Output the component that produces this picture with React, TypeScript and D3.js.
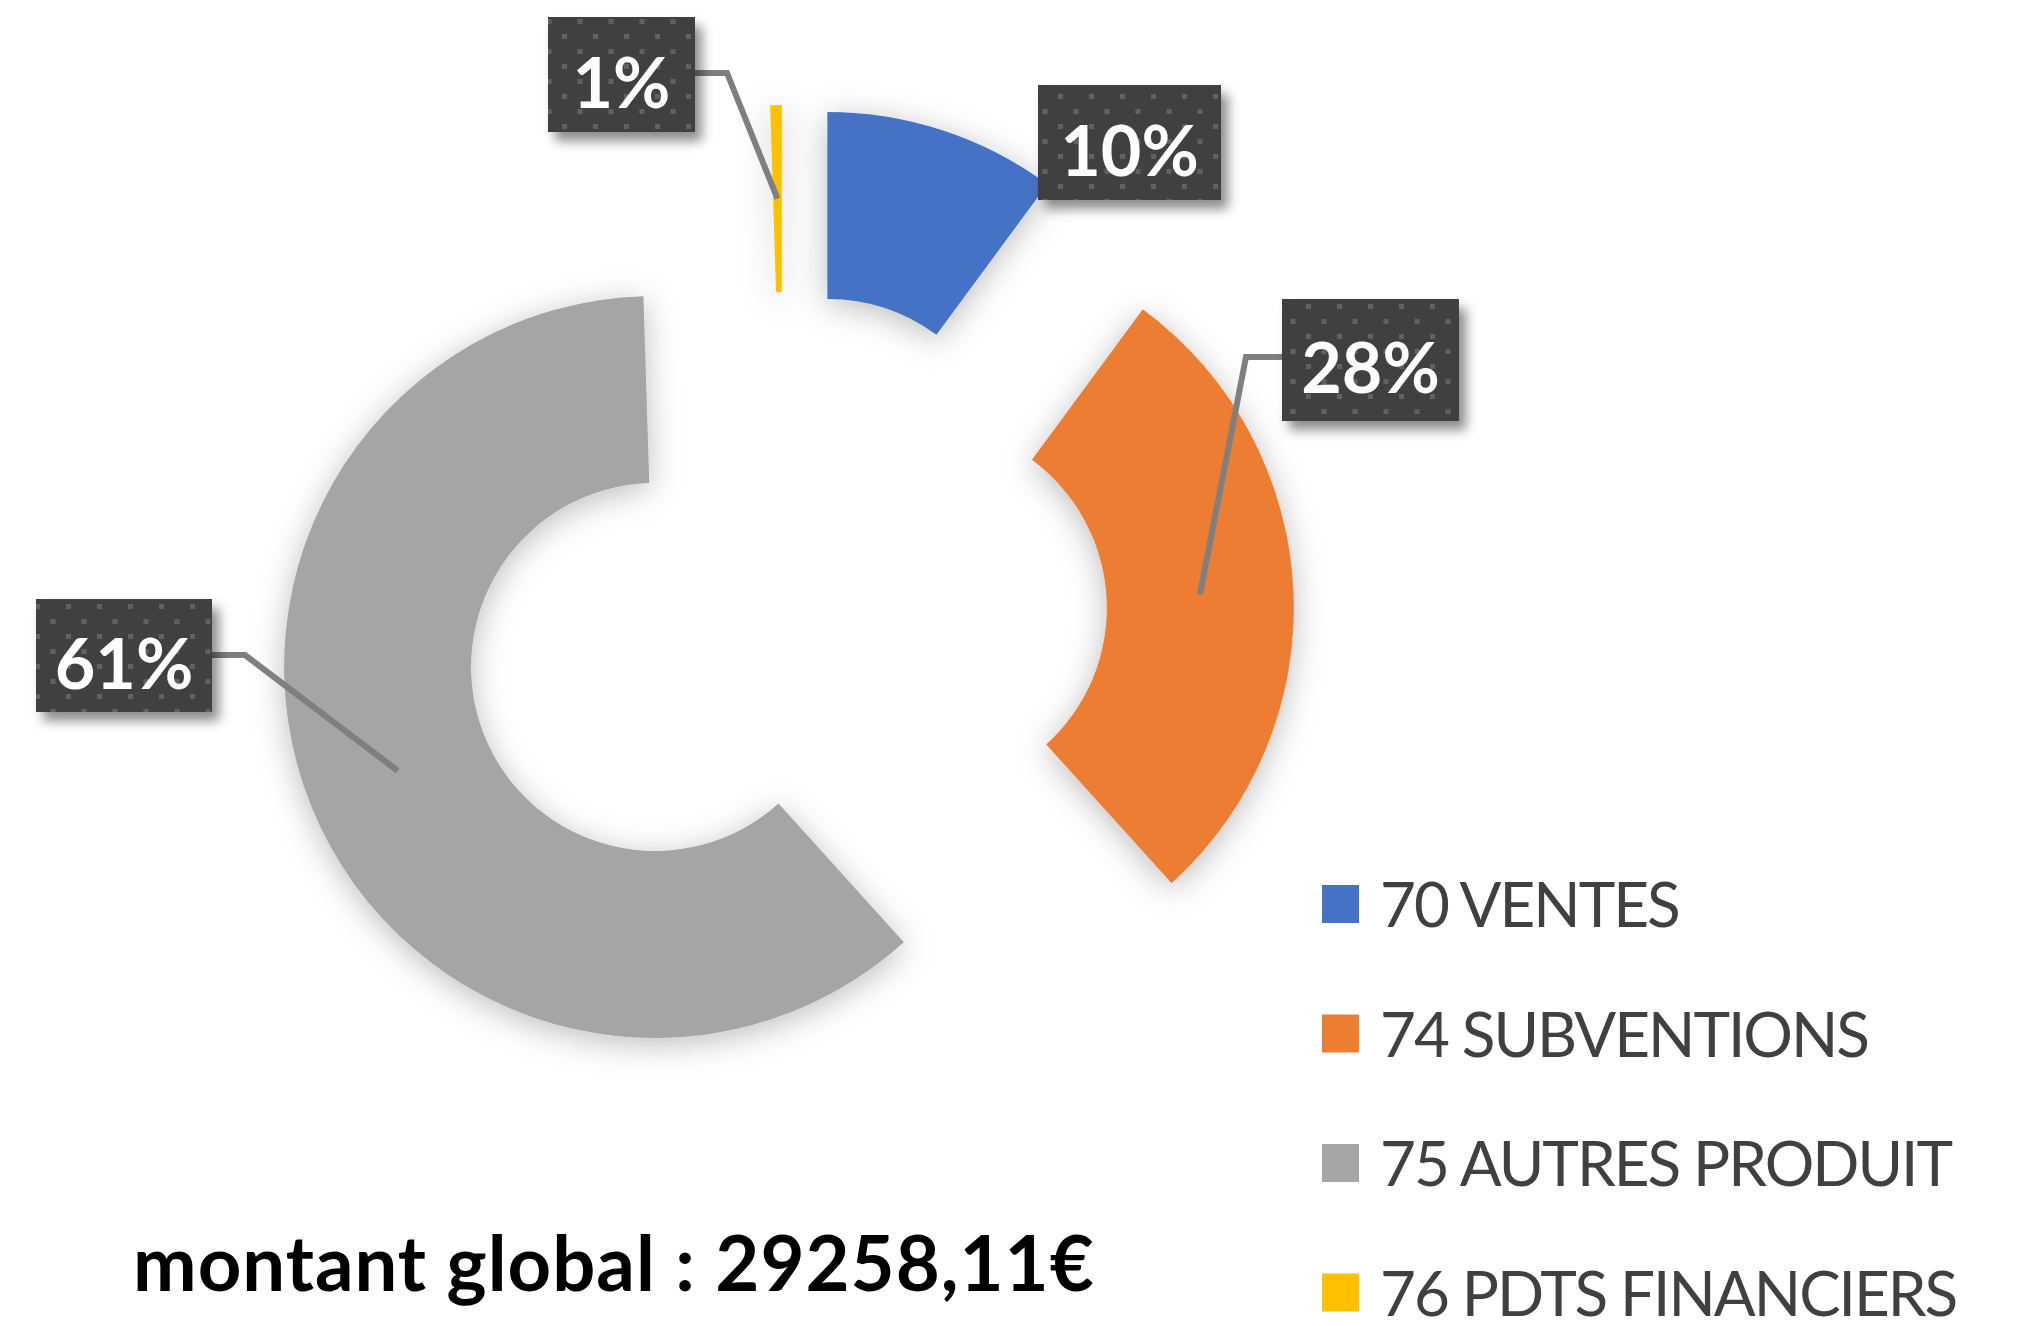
import * as d3 from 'd3';
import React from 'react';

const categories = ['70 VENTES', '74 SUBVENTIONS', '75 AUTRES PRODUIT', '76 PDTS FINANCIERS'];
const shares = [10.1, 28.2, 61.2, 0.5];
const colors = ['#4472C4', '#ED7D31', '#A5A5A5', '#FFC000'];
const totalLabel = 'montant global : 29258,11€';

const width = 2019;
const height = 1326;
const center = { x: 784, y: 615 };
const outerR = 371;
const innerR = 184;
const explode = 139;

// label boxes are placed by hand, like in the original workbook
const boxes = [
  { x: 1038, y: 85, w: 183, h: 115, elbow: null as null | number[] },
  { x: 1282, y: 299, w: 177, h: 122, elbow: [1282, 357, 1246, 357] },
  { x: 36, y: 599, w: 176, h: 113, elbow: [212, 655, 245, 655] },
  { x: 548, y: 17, w: 147, h: 115, elbow: [695, 73, 727, 73] },
];

const App: React.FC = () => {
  const pie = d3.pie<number>().sort(null).value((d) => d);
  const arcs = pie(shares);
  const arc = d3.arc<d3.PieArcDatum<number>>().innerRadius(innerR).outerRadius(outerR);
  const total = d3.sum(shares);
  const fmt = (v: number) => `${Math.round((v / total) * 100)}%`;

  const offset = (a: d3.PieArcDatum<number>) => {
    const mid = (a.startAngle + a.endAngle) / 2;
    return [center.x + explode * Math.sin(mid), center.y - explode * Math.cos(mid)];
  };

  return (
    <svg
      width={width}
      height={height}
      viewBox={`0 0 ${width} ${height}`}
      style={{ position: 'absolute', left: 0, top: 0, background: '#fff' }}
    >
      <defs>
        <filter id="sliceShadow" x="-30%" y="-30%" width="160%" height="160%">
          <feDropShadow dx="0" dy="6" stdDeviation="16" floodColor="#000" floodOpacity="0.26" />
        </filter>
        <filter id="boxShadow" x="-20%" y="-20%" width="150%" height="160%">
          <feDropShadow dx="7" dy="9" stdDeviation="6" floodColor="#000" floodOpacity="0.45" />
        </filter>
        <pattern id="dots" width="31" height="30" patternUnits="userSpaceOnUse">
          <rect width="31" height="30" fill="#404040" />
          <rect x="4" y="4" width="5" height="5" fill="#616161" />
          <rect x="19.5" y="19" width="5" height="5" fill="#616161" />
        </pattern>
      </defs>

      <g filter="url(#sliceShadow)">
        {arcs.map((a, i) => {
          const [ox, oy] = offset(a);
          return (
            <path key={i} d={arc(a) || ''} transform={`translate(${ox},${oy})`} fill={colors[i]} />
          );
        })}
      </g>

      {arcs.map((a, i) => {
        const b = boxes[i];
        if (!b.elbow) return null;
        const [ox, oy] = offset(a);
        const [cx, cy] = arc.centroid(a);
        const pts = `${b.elbow[0]},${b.elbow[1]} ${b.elbow[2]},${b.elbow[3]} ${ox + cx},${oy + cy}`;
        return <polyline key={i} points={pts} fill="none" stroke="#7f7f7f" strokeWidth={6} />;
      })}

      {arcs.map((a, i) => {
        const b = boxes[i];
        return (
          <g key={i}>
            <rect x={b.x} y={b.y} width={b.w} height={b.h} fill="#404040" filter="url(#boxShadow)" />
            <rect x={b.x} y={b.y} width={b.w} height={b.h} fill="url(#dots)" />
            <text
              x={b.x + b.w / 2}
              y={b.y + b.h / 2 + 33}
              textAnchor="middle"
              fontFamily="Lato, 'Open Sans', sans-serif"
              fontWeight={700}
              fontSize={70}
              fill="#fff"
            >
              {fmt(a.data)}
            </text>
          </g>
        );
      })}

      <rect x={1284} y={834} width={width - 1284} height={height - 834} fill="#fff" />
      {categories.map((c, i) => {
        const rowY = 904 + i * 129.5;
        return (
          <g key={c}>
            <rect x={1322} y={rowY - 19} width={37} height={38} fill={colors[i]} />
            <text
              x={1380}
              y={rowY + 23}
              fontFamily="Lato, 'Open Sans', sans-serif"
              fontSize={62}
              letterSpacing={-2}
              fill="#404040"
            >
              {c}
            </text>
          </g>
        );
      })}

      <text
        x={133}
        y={1291}
        fontFamily="Lato, 'Open Sans', sans-serif"
        fontWeight={700}
        fontSize={76}
        letterSpacing={1}
        fill="#000"
      >
        {totalLabel}
      </text>
    </svg>
  );
};

export default App;
